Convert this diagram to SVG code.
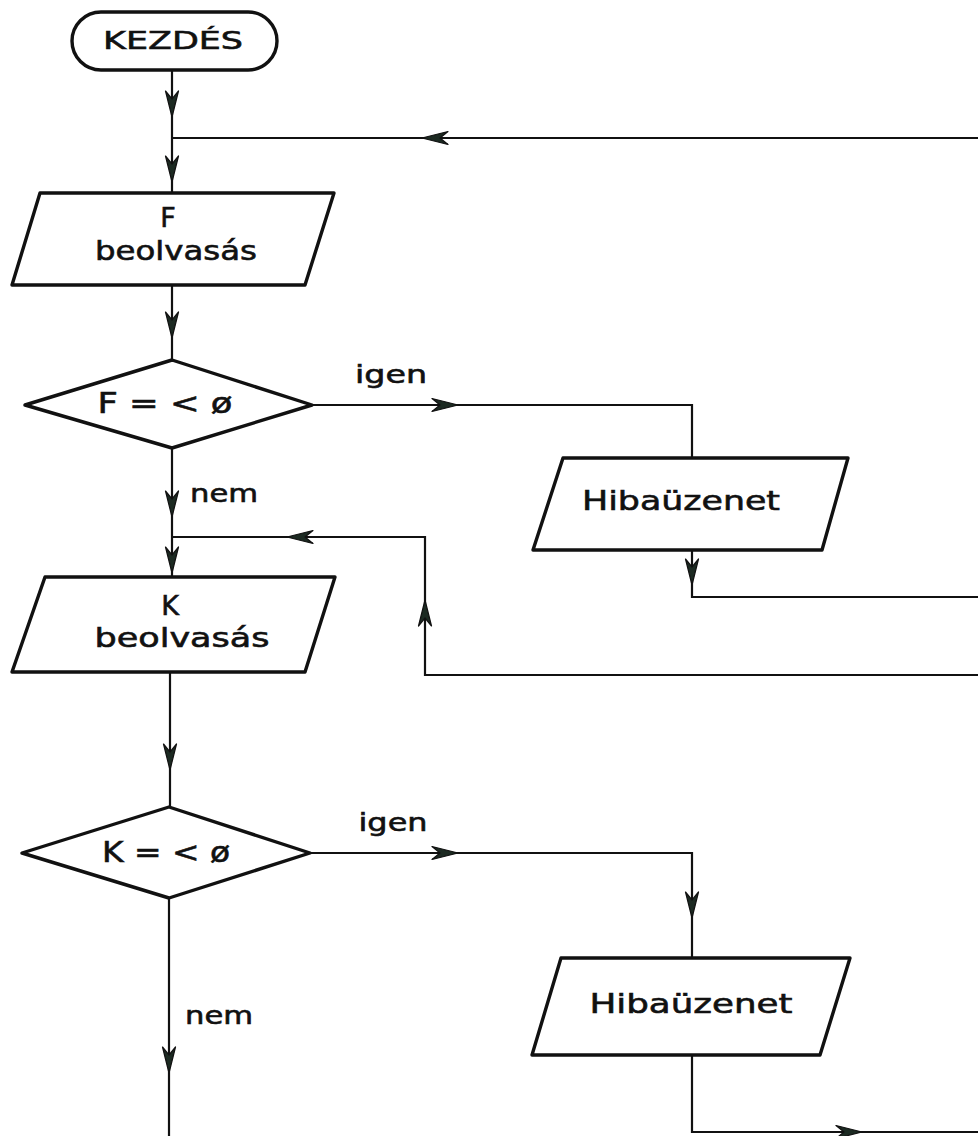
<svg xmlns="http://www.w3.org/2000/svg" xmlns:xlink="http://www.w3.org/1999/xlink" width="978" height="1136" viewBox="0 0 978 1136">
<style>
.shape{fill:#fff;stroke:#111;stroke-width:3.4;stroke-linejoin:round}
.conn{fill:none;stroke:#111;stroke-width:2.2}
.ah{fill:#1c2a22;stroke:#111;stroke-width:1.2;stroke-linejoin:round}
text{font-family:"DejaVu Sans","Liberation Sans",sans-serif;fill:#111;stroke:#111;stroke-width:0.6;font-size:27px;text-anchor:middle}
.lbl{font-size:25px}
.start{font-size:25px}
.cond{font-size:28px}
</style>
<defs>
<path id="ad" class="ah" d="M0,0 L-6.5,-26 L0,-18 L6.5,-26 Z"/>
</defs>
<rect width="978" height="1136" fill="#fff"/>
<g id="connectors">
<path class="conn" d="M172,70 V193"/>
<path class="conn" d="M978,138 H172"/>
<path class="conn" d="M172,285 V360"/>
<path class="conn" d="M312,405 H692 V458"/>
<path class="conn" d="M172,448 V577"/>
<path class="conn" d="M692,550 V597 H978"/>
<path class="conn" d="M978,675 H425 V537 H172"/>
<path class="conn" d="M170,672 V807"/>
<path class="conn" d="M310,853 H692 V958"/>
<path class="conn" d="M169,898 V1136"/>
<path class="conn" d="M692,1055 V1132 H978"/>
<use xlink:href="#ad" transform="translate(172,117)"/>
<use xlink:href="#ad" transform="translate(172,182)"/>
<use xlink:href="#ad" transform="translate(422,138) rotate(90)"/>
<use xlink:href="#ad" transform="translate(172,338)"/>
<use xlink:href="#ad" transform="translate(458,405) rotate(-90)"/>
<use xlink:href="#ad" transform="translate(172,517)"/>
<use xlink:href="#ad" transform="translate(172,573)"/>
<use xlink:href="#ad" transform="translate(692,585)"/>
<use xlink:href="#ad" transform="translate(287,537) rotate(90)"/>
<use xlink:href="#ad" transform="translate(425,600) rotate(180)"/>
<use xlink:href="#ad" transform="translate(170,770)"/>
<use xlink:href="#ad" transform="translate(458,853) rotate(-90)"/>
<use xlink:href="#ad" transform="translate(692,918)"/>
<use xlink:href="#ad" transform="translate(169,1073)"/>
<use xlink:href="#ad" transform="translate(862,1132) rotate(-90)"/>
<text class="lbl" x="391" y="383" textLength="72" lengthAdjust="spacingAndGlyphs">igen</text>
<text class="lbl" x="224" y="502" textLength="68" lengthAdjust="spacingAndGlyphs">nem</text>
<text class="lbl" x="393" y="831" textLength="69" lengthAdjust="spacingAndGlyphs">igen</text>
<text class="lbl" x="219" y="1024" textLength="68" lengthAdjust="spacingAndGlyphs">nem</text>
</g>
<g id="start">
<rect class="shape" x="72" y="12" width="205" height="58" rx="29"/>
<text class="start" x="173" y="49" textLength="140" lengthAdjust="spacingAndGlyphs">KEZDÉS</text>
</g>
<g id="readF">
<polygon class="shape" points="40,193 334,193 305,285 12,285"/>
<text x="168" y="227">F</text>
<text x="176" y="260" textLength="162" lengthAdjust="spacingAndGlyphs">beolvasás</text>
</g>
<g id="checkF">
<polygon class="shape" points="172,360 312,405 172,448 25,405"/>
<text class="cond" x="165" y="413" textLength="135" lengthAdjust="spacingAndGlyphs">F = &lt; ø</text>
</g>
<g id="errorF">
<polygon class="shape" points="563,458 848,458 822,550 533,550"/>
<text x="681" y="510" textLength="198" lengthAdjust="spacingAndGlyphs">Hibaüzenet</text>
</g>
<g id="readK">
<polygon class="shape" points="45,577 335,577 305,672 12,672"/>
<text x="170" y="615">K</text>
<text x="182" y="647" textLength="175" lengthAdjust="spacingAndGlyphs">beolvasás</text>
</g>
<g id="checkK">
<polygon class="shape" points="169,807 310,853 169,898 22,853"/>
<text class="cond" x="166" y="862" textLength="128" lengthAdjust="spacingAndGlyphs">K = &lt; ø</text>
</g>
<g id="errorK">
<polygon class="shape" points="561,958 850,958 820,1055 532,1055"/>
<text x="691" y="1013" textLength="203" lengthAdjust="spacingAndGlyphs">Hibaüzenet</text>
</g>
</svg>
